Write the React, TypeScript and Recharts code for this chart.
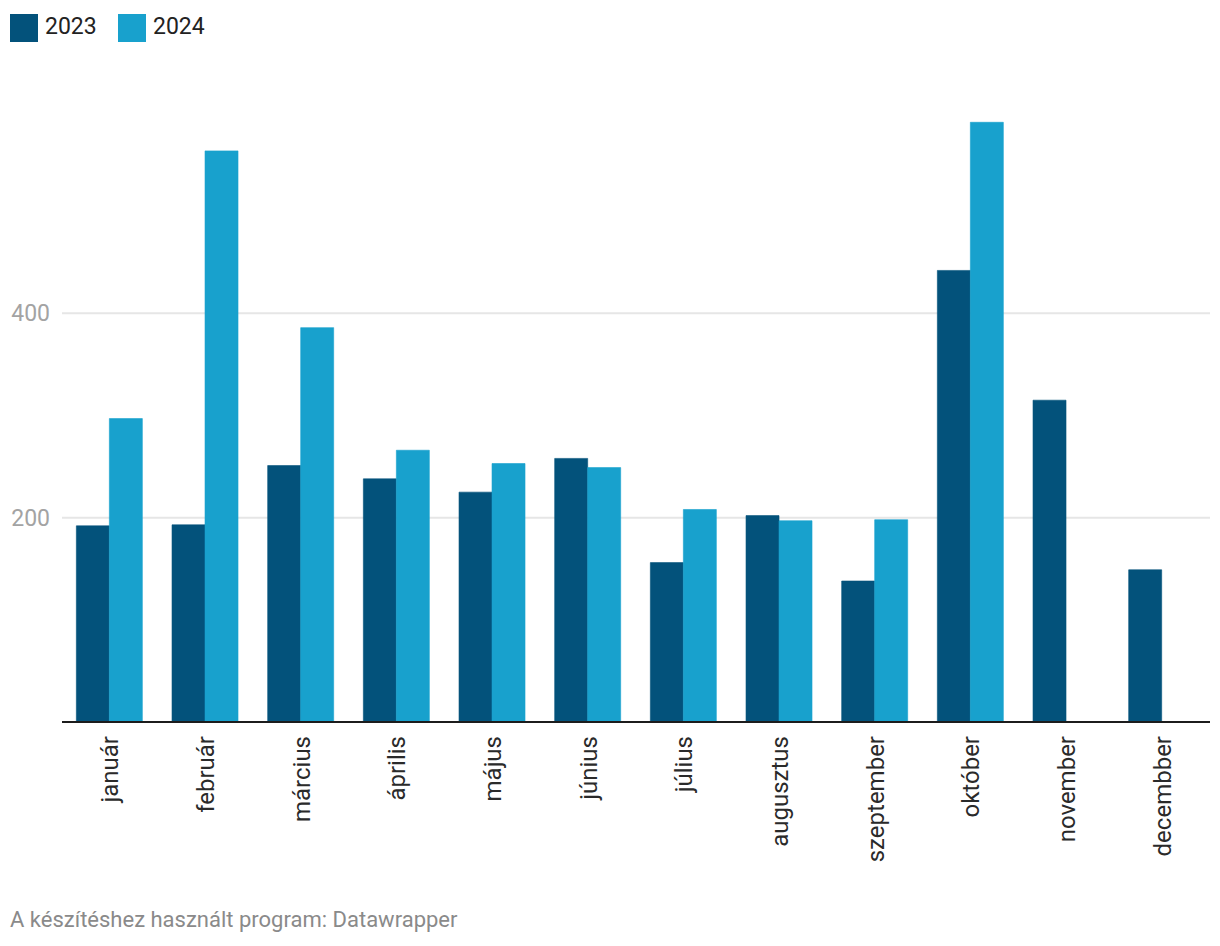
import { BarChart, Bar, XAxis, YAxis, CartesianGrid } from "recharts";

// month labels as written in the source chart (incl. its "decembber")
const MONTHS = [
  "január",
  "február",
  "március",
  "április",
  "május",
  "június",
  "július",
  "augusztus",
  "szeptember",
  "október",
  "november",
  "decembber",
];

const VALUES_2023 = [192, 193, 251, 238, 225, 258, 156, 202, 138, 442, 315, 149];
const VALUES_2024 = [297, 559, 386, 266, 253, 249, 208, 197, 198, 587, null, null];

const Y_TICKS = [200, 400];

const SERIES = [
  { key: "y2023", label: "2023", color: "#03527b" },
  { key: "y2024", label: "2024", color: "#18a1cd" },
];

const FONT = "Roboto, 'Noto Sans', sans-serif";

const data = MONTHS.map((month, i) => ({
  month,
  y2023: VALUES_2023[i],
  y2024: VALUES_2024[i],
}));

function MonthTick(props: any) {
  const { x, y, payload } = props;
  return (
    <g transform={`translate(${x},${y + 6})`}>
      <text
        transform="rotate(-90)"
        textAnchor="end"
        dy="0.35em"
        fontSize={24}
        fontFamily={FONT}
        fill="#2a2a2a"
      >
        {payload.value}
      </text>
    </g>
  );
}

export default function App() {
  return (
    <div
      style={{
        position: "absolute",
        left: 0,
        top: 0,
        width: 1220,
        height: 946,
        background: "#fff",
        fontFamily: FONT,
      }}
    >
      {/* legend */}
      {SERIES.map((s, i) => (
        <div key={s.key}>
          <div
            style={{
              position: "absolute",
              left: 10 + i * 108,
              top: 14,
              width: 28,
              height: 28,
              background: s.color,
            }}
          />
          <div
            style={{
              position: "absolute",
              left: 45 + i * 108,
              top: 15,
              fontSize: 23,
              lineHeight: 1,
              color: "#222",
            }}
          >
            {s.label}
          </div>
        </div>
      ))}

      <div style={{ position: "absolute", left: 0, top: 0 }}>
        <BarChart
          width={1220}
          height={946}
          data={data}
          margin={{ top: 109, right: 10, bottom: 74, left: 0 }}
          barCategoryGap="15%"
          barGap={0}
        >
          {/* only the labelled ticks get a grid line */}
          <CartesianGrid
            vertical={false}
            stroke="#e6e6e6"
            strokeWidth={2}
            syncWithTicks
          />
          <YAxis
            domain={[0, 600]}
            ticks={Y_TICKS}
            width={62}
            axisLine={false}
            tickLine={false}
            tickSize={6}
            tickMargin={6}
            tick={{ fontSize: 23, fontFamily: FONT, fill: "#a3a3a3" }}
          />
          <XAxis
            dataKey="month"
            height={150}
            interval={0}
            axisLine={{ stroke: "#1c1c1c", strokeWidth: 2 }}
            tickLine={false}
            tick={<MonthTick />}
          />
          {SERIES.map((s) => (
            <Bar
              key={s.key}
              dataKey={s.key}
              fill={s.color}
              stroke={s.color}
              strokeWidth={0.6}
              isAnimationActive={false}
            />
          ))}
        </BarChart>
      </div>

      <div
        style={{
          position: "absolute",
          left: 10,
          top: 909,
          fontSize: 22,
          lineHeight: 1,
          color: "#8a8a8a",
        }}
      >
        A készítéshez használt program: Datawrapper
      </div>
    </div>
  );
}
